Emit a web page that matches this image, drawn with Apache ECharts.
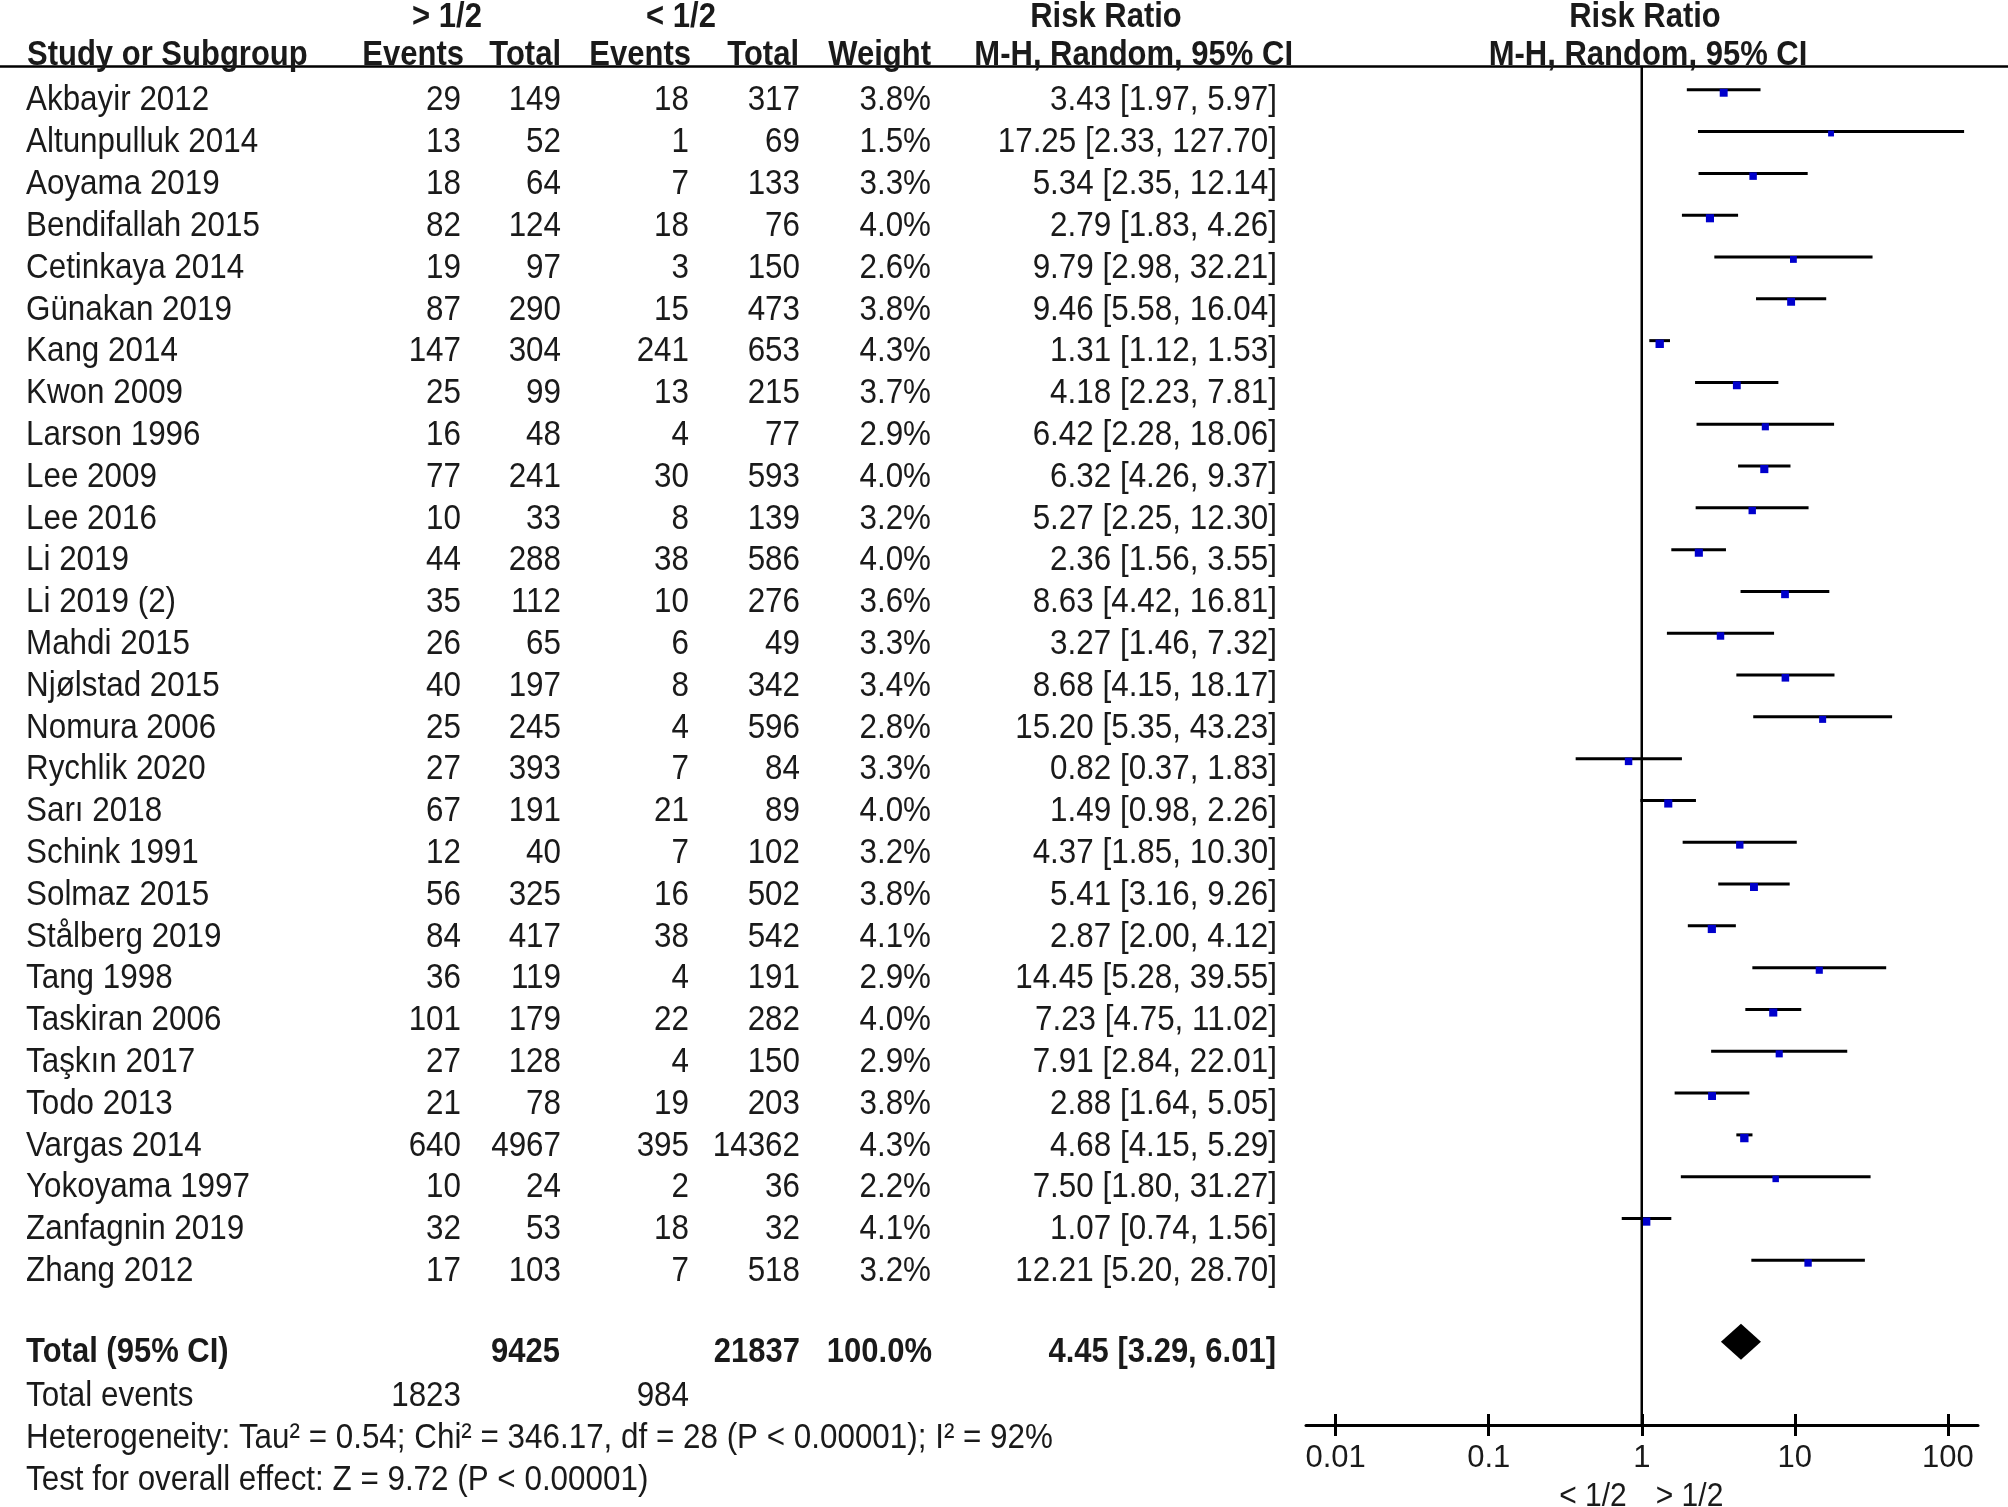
<!DOCTYPE html>
<html lang="en">
<head>
<meta charset="UTF-8">
<title>forest plot</title>
<script src="https://cdn.jsdelivr.net/npm/echarts@6/dist/echarts.min.js"></script>
<style>
    html, body { margin: 0; padding: 0; background: #fff; }
    #main { width: 2008px; height: 1507px; }
</style>
</head>
<body>
<div id="main"></div>
<script>
    // data
    var studies = ['Akbayir 2012', 'Altunpulluk 2014', 'Aoyama 2019', 'Bendifallah 2015', 'Cetinkaya 2014',
        'Günakan 2019', 'Kang 2014', 'Kwon 2009', 'Larson 1996', 'Lee 2009', 'Lee 2016', 'Li 2019',
        'Li 2019 (2)', 'Mahdi 2015', 'Njølstad 2015', 'Nomura 2006', 'Rychlik 2020', 'Sarı 2018',
        'Schink 1991', 'Solmaz 2015', 'Stålberg 2019', 'Tang 1998', 'Taskiran 2006', 'Taşkın 2017',
        'Todo 2013', 'Vargas 2014', 'Yokoyama 1997', 'Zanfagnin 2019', 'Zhang 2012'];
    var eventsHigh = [29, 13, 18, 82, 19, 87, 147, 25, 16, 77, 10, 44, 35, 26, 40, 25, 27, 67, 12, 56, 84, 36, 101, 27, 21, 640, 10, 32, 17];
    var totalHigh = [149, 52, 64, 124, 97, 290, 304, 99, 48, 241, 33, 288, 112, 65, 197, 245, 393, 191, 40, 325, 417, 119, 179, 128, 78, 4967, 24, 53, 103];
    var eventsLow = [18, 1, 7, 18, 3, 15, 241, 13, 4, 30, 8, 38, 10, 6, 8, 4, 7, 21, 7, 16, 38, 4, 22, 4, 19, 395, 2, 18, 7];
    var totalLow = [317, 69, 133, 76, 150, 473, 653, 215, 77, 593, 139, 586, 276, 49, 342, 596, 84, 89, 102, 502, 542, 191, 282, 150, 203, 14362, 36, 32, 518];
    var weights = [3.8, 1.5, 3.3, 4.0, 2.6, 3.8, 4.3, 3.7, 2.9, 4.0, 3.2, 4.0, 3.6, 3.3, 3.4, 2.8, 3.3, 4.0, 3.2, 3.8, 4.1, 2.9, 4.0, 2.9, 3.8, 4.3, 2.2, 4.1, 3.2];
    var riskRatio = [3.43, 17.25, 5.34, 2.79, 9.79, 9.46, 1.31, 4.18, 6.42, 6.32, 5.27, 2.36, 8.63, 3.27, 8.68, 15.20, 0.82, 1.49, 4.37, 5.41, 2.87, 14.45, 7.23, 7.91, 2.88, 4.68, 7.50, 1.07, 12.21];
    var ciLow = [1.97, 2.33, 2.35, 1.83, 2.98, 5.58, 1.12, 2.23, 2.28, 4.26, 2.25, 1.56, 4.42, 1.46, 4.15, 5.35, 0.37, 0.98, 1.85, 3.16, 2.00, 5.28, 4.75, 2.84, 1.64, 4.15, 1.80, 0.74, 5.20];
    var ciHigh = [5.97, 127.70, 12.14, 4.26, 32.21, 16.04, 1.53, 7.81, 18.06, 9.37, 12.30, 3.55, 16.81, 7.32, 18.17, 43.23, 1.83, 2.26, 10.30, 9.26, 4.12, 39.55, 11.02, 22.01, 5.05, 5.29, 31.27, 1.56, 28.70];
    var pooled = [4.45, 3.29, 6.01];
    var sumTotalHigh = 9425, sumTotalLow = 21837, sumEventsHigh = 1823, sumEventsLow = 984;
    var xTicks = [0.01, 0.1, 1, 10, 100];
    var heterogeneity = 'Heterogeneity: Tau² = 0.54; Chi² = 346.17, df = 28 (P < 0.00001); I² = 92%';
    var overallEffect = 'Test for overall effect: Z = 9.72 (P < 0.00001)';

    var FONT = '"Liberation Sans", Arial, Helvetica, sans-serif';
    var INK = '#1a1a1a';
    var ROW_MIN = -0.5526, ROW_MAX = 31.94;
    var TOTAL_ROW = 29.95;
    var STRETCH = 1.12;   // the figure's lettering is a little taller than plain Arial

    function fmtCI(m, lo, hi) {
        return m.toFixed(2) + ' [' + lo.toFixed(2) + ', ' + hi.toFixed(2) + ']';
    }

    // text cells of the table (x in pixels, y in row units)
    var cells = [];
    function cell(x, r, text, align, bold) {
        cells.push({x: x, r: r, text: String(text), align: align, bold: !!bold});
    }
    cell(447, -2, '> 1/2', 'center', true);
    cell(681, -2, '< 1/2', 'center', true);
    cell(1106, -2, 'Risk Ratio', 'center', true);
    cell(1645, -2, 'Risk Ratio', 'center', true);
    cell(27, -1.08, 'Study or Subgroup', 'left', true);
    cell(464, -1.08, 'Events', 'right', true);
    cell(561, -1.08, 'Total', 'right', true);
    cell(691, -1.08, 'Events', 'right', true);
    cell(799, -1.08, 'Total', 'right', true);
    cell(931, -1.08, 'Weight', 'right', true);
    cell(1293, -1.08, 'M-H, Random, 95% CI', 'right', true);
    cell(1648, -1.08, 'M-H, Random, 95% CI', 'center', true);
    for (var i = 0; i < studies.length; i++) {
        cell(26, i, studies[i], 'left');
        cell(461, i, eventsHigh[i], 'right');
        cell(561, i, totalHigh[i], 'right');
        cell(689, i, eventsLow[i], 'right');
        cell(800, i, totalLow[i], 'right');
        cell(931, i, weights[i].toFixed(1) + '%', 'right');
        cell(1277, i, fmtCI(riskRatio[i], ciLow[i], ciHigh[i]), 'right');
    }
    cell(26, TOTAL_ROW, 'Total (95% CI)', 'left', true);
    cell(560, TOTAL_ROW, sumTotalHigh, 'right', true);
    cell(800, TOTAL_ROW, sumTotalLow, 'right', true);
    cell(932, TOTAL_ROW, '100.0%', 'right', true);
    cell(1276, TOTAL_ROW, fmtCI(pooled[0], pooled[1], pooled[2]), 'right', true);
    cell(26, 31, 'Total events', 'left');
    cell(461, 31, sumEventsHigh, 'right');
    cell(689, 31, sumEventsLow, 'right');
    cell(26, 32, heterogeneity, 'left');
    cell(26, 33, overallEffect, 'left');

    var myChart = echarts.init(document.getElementById('main'));

    function textItem(params, api) {
        var c = cells[params.dataIndex];
        var p = api.coord([api.value(0), api.value(1)]);
        return {
            type: 'text', x: p[0], y: p[1] + 11, scaleY: STRETCH,
            style: {
                text: c.text, align: c.align, verticalAlign: 'middle', fill: INK,
                fontSize: c.bold ? 31 : 31.4, fontWeight: c.bold ? 'bold' : 'normal', fontFamily: FONT
            }
        };
    }

    function ciItem(params, api) {
        var r = api.value(4);
        var lo = api.coord([api.value(0), r]);
        var hi = api.coord([api.value(1), r]);
        var mid = api.coord([api.value(2), r]);
        var s = 4.5 + 0.9 * api.value(3);
        return {
            type: 'group', children: [
                {type: 'line', shape: {x1: lo[0], y1: lo[1], x2: hi[0], y2: hi[1]}, style: {stroke: '#000', lineWidth: 3}},
                {type: 'rect', shape: {x: mid[0] - s / 2, y: mid[1] - 1, width: s, height: s}, style: {fill: '#0000cc'}}
            ]
        };
    }

    function diamondItem(params, api) {
        var r = api.value(3);
        var lo = api.coord([api.value(1), r]);
        var hi = api.coord([api.value(2), r]);
        var mid = api.coord([api.value(0), r]);
        return {
            type: 'polygon',
            shape: {points: [[lo[0], lo[1]], [mid[0], mid[1] - 18], [hi[0], hi[1]], [mid[0], mid[1] + 18]]},
            style: {fill: '#000'}
        };
    }

    var sideLabels = [{text: '< 1/2', align: 'right', dx: -15}, {text: '> 1/2', align: 'left', dx: 14}];
    function sideItem(params, api) {
        var c = sideLabels[params.dataIndex];
        var p = api.coord([api.value(0), api.value(1)]);
        return {
            type: 'text', x: p[0] + c.dx, y: p[1] + 72, scaleY: STRETCH,
            style: {text: c.text, align: c.align, verticalAlign: 'middle', fill: INK, fontSize: 30, fontFamily: FONT}
        };
    }

    var option = {
        animation: false,
        backgroundColor: '#fff',
        grid: [
            {left: 0, right: 0, top: 66.7, bottom: 82, containLabel: false, outerBoundsMode: 'none'},
            {left: 1306, right: 30, top: 66.7, bottom: 82, containLabel: false, outerBoundsMode: 'none'}
        ],
        xAxis: [
            {
                gridIndex: 0, type: 'value', min: 0, max: 2008, position: 'top',
                axisLine: {show: true, onZero: false, lineStyle: {color: '#000', width: 2.5}},
                axisTick: {show: false}, axisLabel: {show: false}, splitLine: {show: false}
            },
            {
                gridIndex: 1, type: 'log', logBase: 10, min: 0.0064, max: 157.4, position: 'bottom',
                axisLine: {show: true, onZero: false, lineStyle: {color: '#000', width: 3}},
                axisTick: {show: true, length: 11, customValues: xTicks, lineStyle: {color: '#000', width: 3}},
                axisLabel: {
                    show: true, customValues: xTicks, margin: 18, color: INK, fontSize: 31, fontFamily: FONT,
                    formatter: function (v) { return String(+Number(v).toPrecision(3)); }
                },
                splitLine: {show: false}
            },
            {
                gridIndex: 1, type: 'log', logBase: 10, min: 0.0064, max: 157.4, position: 'bottom',
                axisLine: {show: false, onZero: false},
                axisTick: {show: true, inside: true, length: 11, customValues: xTicks, lineStyle: {color: '#000', width: 3}},
                axisLabel: {show: false}, splitLine: {show: false}
            }
        ],
        yAxis: [
            {gridIndex: 0, type: 'value', inverse: true, min: ROW_MIN, max: ROW_MAX, show: false},
            {gridIndex: 1, type: 'value', inverse: true, min: ROW_MIN, max: ROW_MAX, show: false}
        ],
        series: [
            {
                type: 'custom', name: 'table', xAxisIndex: 0, yAxisIndex: 0, silent: true,
                renderItem: textItem, encode: {x: 0, y: 1},
                data: cells.map(function (c) { return [c.x, c.r]; })
            },
            {
                type: 'line', name: 'no effect', xAxisIndex: 1, yAxisIndex: 1, silent: true,
                symbol: 'none', lineStyle: {color: '#000', width: 2.5},
                data: [[1, ROW_MIN], [1, ROW_MAX]]
            },
            {
                type: 'custom', name: 'studies', xAxisIndex: 1, yAxisIndex: 1, silent: true,
                renderItem: ciItem, encode: {x: [0, 1, 2], y: 4},
                data: studies.map(function (s, i) { return [ciLow[i], ciHigh[i], riskRatio[i], weights[i], i]; })
            },
            {
                type: 'custom', name: 'pooled', xAxisIndex: 1, yAxisIndex: 1, silent: true,
                renderItem: diamondItem, encode: {x: [0, 1, 2], y: 3},
                data: [[pooled[0], pooled[1], pooled[2], TOTAL_ROW]]
            },
            {
                type: 'custom', name: 'sides', xAxisIndex: 1, yAxisIndex: 1, silent: true,
                renderItem: sideItem, encode: {x: 0, y: 1},
                data: [[1, ROW_MAX], [1, ROW_MAX]]
            }
        ]
    };
    myChart.setOption(option);
</script>
</body>
</html>
